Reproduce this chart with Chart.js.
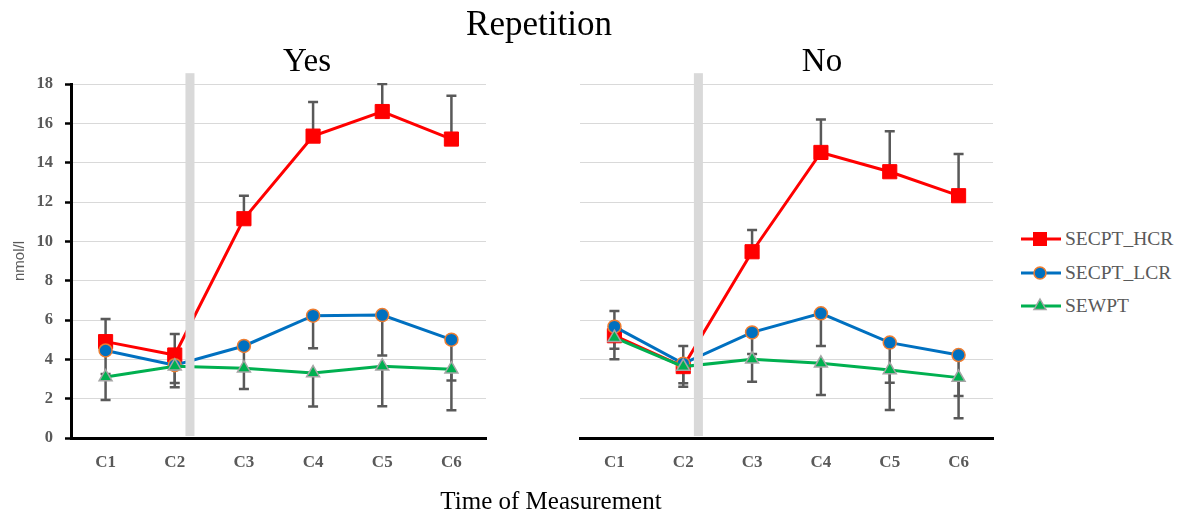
<!DOCTYPE html>
<html>
<head>
<meta charset="utf-8">
<script src="https://cdn.jsdelivr.net/npm/chart.js@4.4.1/dist/chart.umd.min.js"></script>
<style>
  html, body { margin: 0; padding: 0; background: #fff; }
  #wrap { position: relative; width: 1181px; height: 515px; overflow: hidden; font-family: 'Liberation Serif', 'Times New Roman', serif; }
  .txt { position: absolute; white-space: nowrap; line-height: 1; }
  #title { left: 0; width: 1078px; text-align: center; top: 6px; font-size: 35px; color: #000; }
  #yes { left: 207px; width: 200px; text-align: center; top: 44px; font-size: 33px; color: #000; }
  #no { left: 722px; width: 200px; text-align: center; top: 44px; font-size: 33px; color: #000; }
  #xtitle { left: 0; width: 1102px; text-align: center; top: 488px; font-size: 25px; color: #000; }
  #leftBox { position: absolute; left: 0; top: 0; width: 500px; height: 515px; }
  #rightBox { position: absolute; left: 560px; top: 0; width: 450px; height: 515px; }
  #legend { position: absolute; left: 1020px; top: 222px; }
  .item { display: flex; align-items: center; height: 33.7px; font-size: 19.5px; color: #595959; }
  .item svg { margin-right: 3px; }
</style>
</head>
<body>
<div id="wrap">
  <div id="leftBox"><canvas id="yesChart"></canvas></div>
  <div id="rightBox"><canvas id="noChart"></canvas></div>
  <div class="txt" id="title">Repetition</div>
  <div class="txt" id="yes">Yes</div>
  <div class="txt" id="no">No</div>
  <div class="txt" id="xtitle">Time of Measurement</div>
  <div id="legend"></div>
</div>
<script>
// categories and values
const categories = ['C1', 'C2', 'C3', 'C4', 'C5', 'C6'];
const seriesNames = ['SECPT_HCR', 'SECPT_LCR', 'SEWPT'];

const yesHcr = [4.9, 4.22, 11.15, 15.35, 16.6, 15.2];
const yesLcr = [4.45, 3.7, 4.68, 6.22, 6.25, 5.0];
const yesEwpt = [3.1, 3.65, 3.55, 3.3, 3.65, 3.5];
const yesHcrPlus = [1.15, 1.07, 1.17, 1.73, 1.4, 2.2];
const yesLcrMinus = [1.2, 0.9, 1.2, 1.66, 2.06, 2.08];
const yesEwptMinus = [1.17, 1.07, 1.06, 1.7, 2.03, 2.09];

const noHcr = [5.2, 3.63, 9.47, 14.52, 13.54, 12.32];
const noLcr = [5.66, 3.78, 5.37, 6.34, 4.85, 4.22];
const noEwpt = [5.1, 3.63, 4.0, 3.8, 3.46, 3.07];
const noHcrPlus = [1.26, 1.05, 1.1, 1.68, 2.06, 2.12];
const noLcrMinus = [1.12, 1.0, 1.1, 1.66, 2.04, 2.08];
const noEwptMinus = [1.1, 1.02, 1.14, 1.61, 2.04, 2.07];

const yMin = 0, yMax = 18, yStep = 2;
// grey separator between C2 and C3 (category units / value units)
const dividerAt = 1.22;
const dividerTop = 18.55, dividerBottom = 0.1;

const colors = {
    hcr: '#FF0000',
    lcr: '#0070C0',
    lcrEdge: '#ED7D31',
    ewpt: '#00B050',
    ewptEdge: '#A5A5A5',
    err: '#595959',
    grid: '#D9D9D9',
    text: '#595959'
};

const errorBars = {
    id: 'errorBars',
    beforeDatasetsDraw(chart) {
        const { ctx, chartArea, scales: { x, y } } = chart;
        ctx.save();
        ctx.beginPath();
        ctx.rect(chartArea.left, chartArea.top - 1, chartArea.right - chartArea.left, chartArea.bottom - chartArea.top + 2);
        ctx.clip();
        ctx.strokeStyle = colors.err;
        ctx.lineWidth = 2.5;
        chart.data.datasets.forEach(ds => {
            ds.data.forEach((v, i) => {
                const px = x.getPixelForValue(i);
                const ends = [];
                if (ds.errPlus) ends.push(v + ds.errPlus[i]);
                if (ds.errMinus) ends.push(v - ds.errMinus[i]);
                ends.forEach(e => {
                    const y0 = y.getPixelForValue(v), y1 = y.getPixelForValue(e);
                    ctx.beginPath();
                    ctx.moveTo(px, y0); ctx.lineTo(px, y1);
                    ctx.moveTo(px - 5, y1); ctx.lineTo(px + 5, y1);
                    ctx.stroke();
                });
            });
        });
        ctx.restore();
    }
};

const divider = {
    id: 'divider',
    afterDatasetsDraw(chart) {
        const { ctx, scales: { x, y } } = chart;
        const step = x.getPixelForValue(2) - x.getPixelForValue(1);
        const cx = x.getPixelForValue(1) + (dividerAt - 1) * step;
        const top = y.getPixelForValue(dividerTop), bottom = y.getPixelForValue(dividerBottom);
        ctx.save();
        ctx.fillStyle = colors.grid;
        ctx.fillRect(cx - 4.5, top, 9, bottom - top);
        ctx.restore();
    }
};

function makeDatasets(hcr, lcr, ewpt, hcrPlus, lcrMinus, ewptMinus) {
    return [{
        label: seriesNames[0], data: hcr, errPlus: hcrPlus, order: 2,
        borderColor: colors.hcr, borderWidth: 3, tension: 0,
        pointStyle: 'rect', pointRadius: 10, pointBackgroundColor: colors.hcr,
        pointBorderColor: colors.hcr, pointBorderWidth: 1
    }, {
        label: seriesNames[1], data: lcr, errMinus: lcrMinus, order: 1,
        borderColor: colors.lcr, borderWidth: 3, tension: 0,
        pointStyle: 'circle', pointRadius: 6.5, pointBackgroundColor: colors.lcr,
        pointBorderColor: colors.lcrEdge, pointBorderWidth: 1.5
    }, {
        label: seriesNames[2], data: ewpt, errMinus: ewptMinus, order: 0,
        borderColor: colors.ewpt, borderWidth: 3, tension: 0,
        pointStyle: 'triangle', pointRadius: 7.5, pointBackgroundColor: colors.ewpt,
        pointBorderColor: colors.ewptEdge, pointBorderWidth: 1.5
    }];
}

function makeChart(id, datasets, showAxis, yWidth, padRight) {
    return new Chart(document.getElementById(id), {
        type: 'line',
        data: { labels: categories, datasets },
        options: {
            responsive: true,
            maintainAspectRatio: false,
            animation: false,
            layout: { padding: { top: 84, right: padRight, bottom: 45, left: 0 } },
            plugins: { legend: { display: false }, tooltip: { enabled: false } },
            scales: {
                x: {
                    offset: true,
                    grid: { drawOnChartArea: false, drawTicks: false },
                    border: { display: true, color: '#000', width: 3 },
                    ticks: {
                        color: colors.text, padding: 14,
                        font: { family: 'Liberation Serif', size: 17, weight: 'bold' }
                    },
                    afterFit: s => { s.height = 32; }
                },
                y: {
                    min: yMin, max: yMax,
                    grid: {
                        color: colors.grid, lineWidth: 1,
                        drawTicks: showAxis, tickLength: 6, tickColor: '#000', tickWidth: 2.5
                    },
                    border: { display: showAxis, color: '#000', width: 3 },
                    ticks: {
                        display: showAxis, stepSize: yStep, color: colors.text, padding: 12,
                        font: { family: 'Liberation Serif', size: 16.5, weight: 'bold' }
                    },
                    title: {
                        display: showAxis, text: 'nmol/l', color: colors.text, padding: 11,
                        font: { family: 'Liberation Sans', size: 15 }
                    },
                    afterFit: s => { s.width = yWidth; }
                }
            }
        },
        plugins: [errorBars, divider]
    });
}

makeChart('yesChart', makeDatasets(yesHcr, yesLcr, yesEwpt, yesHcrPlus, yesLcrMinus, yesEwptMinus), true, 71, 14);
makeChart('noChart', makeDatasets(noHcr, noLcr, noEwpt, noHcrPlus, noLcrMinus, noEwptMinus), false, 20, 17);

// legend: line with marker, same styles as the series
const marks = [
    `<rect x="13" y="3" width="14" height="14" fill="${colors.hcr}"/>`,
    `<circle cx="20" cy="10" r="6" fill="${colors.lcr}" stroke="${colors.lcrEdge}" stroke-width="1.5"/>`,
    `<polygon points="20,3 26,13.5 14,13.5" fill="${colors.ewpt}" stroke="${colors.ewptEdge}" stroke-width="1.5"/>`
];
const lineColors = [colors.hcr, colors.lcr, colors.ewpt];
document.getElementById('legend').innerHTML = seriesNames.map((name, i) => `
    <div class="item">
        <svg width="42" height="20"><line x1="1" y1="10" x2="41" y2="10" stroke="${lineColors[i]}" stroke-width="3"/>${marks[i]}</svg>
        <span>${name}</span>
    </div>`).join('');
</script>
</body>
</html>
